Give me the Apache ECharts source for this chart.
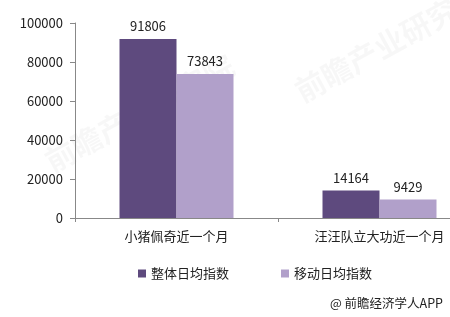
<!DOCTYPE html>
<html><head><meta charset="utf-8">
<script src="https://cdn.jsdelivr.net/npm/echarts@6/dist/echarts.min.js"></script>
<style>html,body{margin:0;padding:0;background:#fff}#c{width:450px;height:317px}</style>
</head><body><div id="c"></div>
<script>
var categories = ['小猪佩奇近一个月', '汪汪队立大功近一个月'];
var seriesNames = ['整体日均指数', '移动日均指数'];
var overallValues = [91806, 14164];
var mobileValues = [73843, 9429];
var yTicks = [0, 20000, 40000, 60000, 80000, 100000];

var font = '"Noto Sans CJK SC", "Microsoft YaHei", sans-serif';
var chart = echarts.init(document.getElementById('c'));
var lbl = {show: true, position: 'top', distance: 6, color: '#222', fontSize: 13, fontFamily: font};
chart.setOption({
  animation: false,
  textStyle: {fontFamily: font},
  grid: {left: 75, width: 406, top: 23, height: 195, containLabel: false, outerBoundsMode: 'none'},
  graphic: [
    {type: 'text', right: 7, top: 297, style: {text: '@ 前瞻经济学人APP', fontSize: 12.5, fill: '#222', fontFamily: font}},
    {type: 'text', x: 40, y: 150, rotation: 0.5, style: {text: '前瞻产业研究院', fontSize: 30, fill: 'rgba(0,0,0,0.03)', fontWeight: 'bold', fontFamily: font}},
    {type: 'text', x: 290, y: 80, rotation: 0.5, style: {text: '前瞻产业研究院', fontSize: 30, fill: 'rgba(0,0,0,0.03)', fontWeight: 'bold', fontFamily: font}}
  ],
  legend: {
    data: seriesNames, left: 133, top: 262, icon: 'rect', itemWidth: 8, itemHeight: 8,
    itemGap: 52, textStyle: {fontSize: 13, color: '#222', fontFamily: font}
  },
  xAxis: {
    type: 'category', data: categories,
    axisLine: {lineStyle: {color: '#888'}},
    axisTick: {show: true, length: 4, lineStyle: {color: '#888'}},
    axisLabel: {fontSize: 13, color: '#222', margin: 12, fontFamily: font}
  },
  yAxis: {
    type: 'value', min: 0, max: 100000, interval: 20000,
    axisLine: {show: true, lineStyle: {color: '#888'}},
    axisTick: {show: true, length: 5, lineStyle: {color: '#888'}},
    splitLine: {show: false},
    axisLabel: {fontSize: 13, color: '#222', margin: 12, fontFamily: font,
      formatter: function(v){ return yTicks.indexOf(v) >= 0 ? String(v) : ''; }}
  },
  series: [
    {name: seriesNames[0], type: 'bar', data: overallValues, barWidth: 57, barGap: '0%', itemStyle: {color: '#5E4A7E'}, label: lbl},
    {name: seriesNames[1], type: 'bar', data: mobileValues, barWidth: 57, barGap: '0%', itemStyle: {color: '#B1A0CA'}, label: lbl}
  ]
});
</script></body></html>
